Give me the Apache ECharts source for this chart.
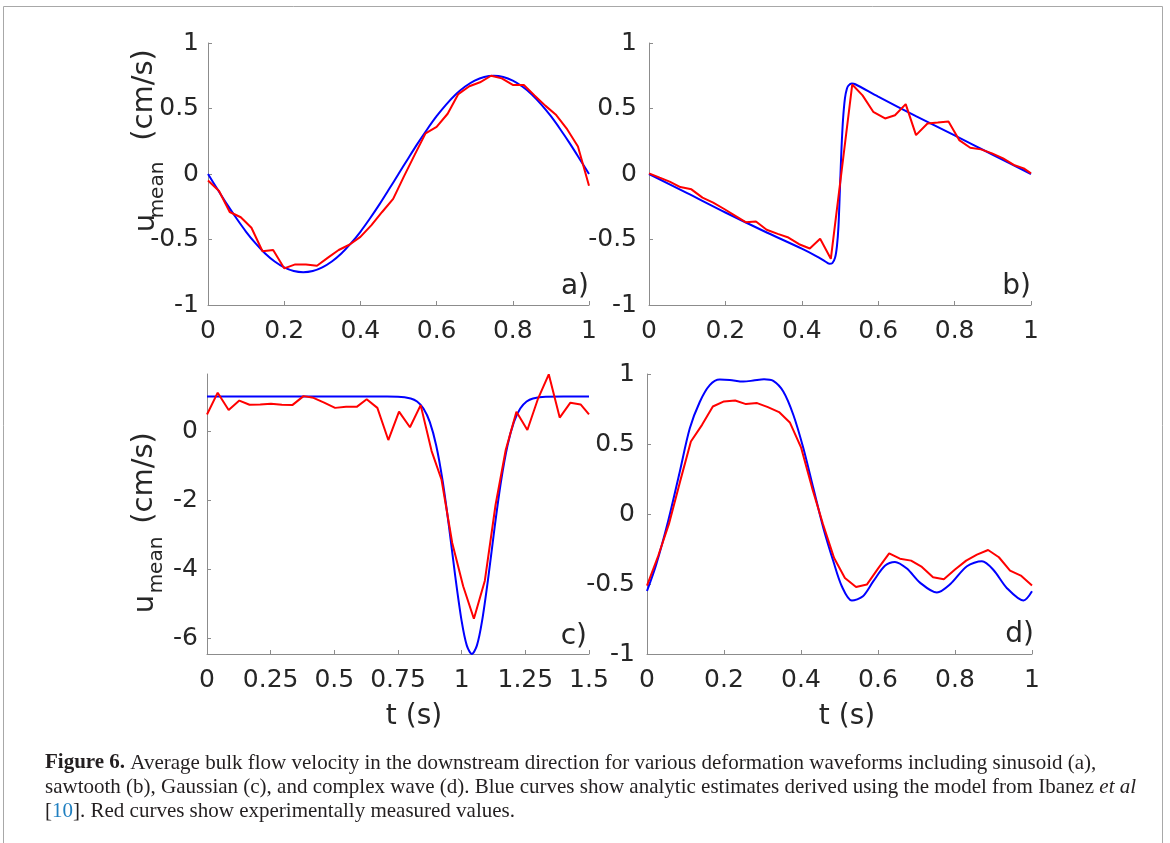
<!DOCTYPE html>
<html>
<head>
<meta charset="utf-8">
<script src="https://cdn.jsdelivr.net/npm/echarts@6/dist/echarts.min.js"></script>
<style>
html,body{margin:0;padding:0;background:#fff;}
#chart{width:1170px;height:843px;}
</style>
</head>
<body>
<div id="chart"></div>
<script>
// ---------- Data ----------
// Panel a: sinusoid
const blueA_t = [0,0.025,0.05,0.075,0.1,0.125,0.15,0.175,0.2,0.225,0.25,0.275,0.3,0.325,0.35,0.375,0.4,0.425,0.45,0.475,0.5,0.525,0.55,0.575,0.6,0.625,0.65,0.675,0.7,0.725,0.75,0.775,0.8,0.825,0.85,0.875,0.9,0.925,0.95,0.975,1];
const blueA_u = [0,-0.117,-0.232,-0.340,-0.441,-0.530,-0.607,-0.668,-0.713,-0.741,-0.75,-0.741,-0.713,-0.668,-0.607,-0.530,-0.441,-0.340,-0.232,-0.117,0,0.117,0.232,0.340,0.441,0.530,0.607,0.668,0.713,0.741,0.75,0.741,0.713,0.668,0.607,0.530,0.441,0.340,0.232,0.117,0];
const redA_t = [0,0.029,0.057,0.086,0.114,0.143,0.171,0.2,0.229,0.257,0.286,0.314,0.343,0.371,0.4,0.429,0.457,0.486,0.514,0.543,0.571,0.6,0.629,0.657,0.686,0.714,0.743,0.771,0.8,0.829,0.857,0.886,0.914,0.943,0.971,1];
const redA_u = [-0.05,-0.13,-0.29,-0.33,-0.41,-0.59,-0.58,-0.72,-0.69,-0.69,-0.70,-0.64,-0.58,-0.54,-0.48,-0.39,-0.29,-0.19,-0.02,0.15,0.31,0.36,0.46,0.61,0.67,0.70,0.75,0.73,0.68,0.68,0.60,0.52,0.45,0.34,0.21,-0.09];

// Panel b: sawtooth
const blueB_t = [0,0.1,0.2,0.3,0.4,0.44,0.46,0.472,0.48,0.487,0.492,0.496,0.5,0.504,0.508,0.513,0.518,0.522,0.531,0.54,0.6,0.7,0.8,0.9,1];
const blueB_u = [0,-0.146,-0.294,-0.435,-0.57,-0.63,-0.665,-0.685,-0.68,-0.64,-0.55,-0.40,-0.10,0.20,0.42,0.58,0.65,0.675,0.69,0.685,0.59,0.44,0.295,0.147,0];
const redB_t = [0,0.028,0.054,0.082,0.111,0.140,0.168,0.198,0.225,0.253,0.280,0.308,0.337,0.365,0.393,0.421,0.448,0.476,0.532,0.559,0.587,0.618,0.644,0.672,0.699,0.729,0.756,0.784,0.812,0.841,0.869,0.898,0.927,0.955,0.981,1];
const redB_u = [0.005,-0.028,-0.058,-0.10,-0.117,-0.18,-0.218,-0.269,-0.317,-0.368,-0.363,-0.426,-0.457,-0.485,-0.536,-0.569,-0.495,-0.647,0.683,0.60,0.475,0.424,0.449,0.533,0.297,0.386,0.393,0.401,0.259,0.20,0.188,0.157,0.119,0.069,0.043,0.005];

// Panel c: Gaussian
const blueC_t = [0,0.25,0.5,0.7,0.75,0.8,0.825,0.85,0.875,0.9,0.925,0.95,0.975,1,1.02,1.04,1.06,1.08,1.105,1.13,1.155,1.18,1.205,1.23,1.255,1.28,1.33,1.4,1.5];
const blueC_u = [1,1,1,0.998,0.994,0.943,0.852,0.651,0.259,-0.416,-1.43,-2.75,-4.21,-5.50,-6.20,-6.45,-6.20,-5.50,-4.21,-2.75,-1.43,-0.416,0.259,0.651,0.852,0.943,0.994,1,1];
const redC_t = [0,0.042,0.085,0.127,0.167,0.209,0.251,0.294,0.335,0.379,0.418,0.46,0.503,0.546,0.588,0.627,0.669,0.712,0.754,0.797,0.839,0.882,0.921,0.963,1.006,1.048,1.091,1.133,1.173,1.215,1.258,1.300,1.342,1.385,1.427,1.467,1.5];
const redC_u = [0.48,1.11,0.61,0.88,0.76,0.77,0.79,0.76,0.75,1.01,0.96,0.82,0.67,0.70,0.70,0.92,0.67,-0.26,0.56,0.11,0.75,-0.58,-1.41,-3.24,-4.49,-5.43,-4.33,-2.14,-0.55,0.56,0.03,0.94,1.64,0.39,0.82,0.77,0.48];

// Panel d: complex wave
const blueD_t = [0,0.024,0.055,0.085,0.111,0.137,0.163,0.189,0.215,0.25,0.276,0.304,0.328,0.354,0.38,0.406,0.432,0.458,0.484,0.506,0.532,0.56,0.588,0.618,0.644,0.675,0.709,0.753,0.788,0.831,0.870,0.9,0.935,0.978,1];
const blueD_u = [-0.55,-0.36,-0.05,0.30,0.61,0.80,0.92,0.96,0.958,0.946,0.953,0.963,0.951,0.875,0.709,0.471,0.185,-0.10,-0.338,-0.516,-0.618,-0.59,-0.48,-0.37,-0.342,-0.39,-0.49,-0.561,-0.50,-0.373,-0.338,-0.40,-0.53,-0.618,-0.552];
const redD_t = [0,0.029,0.057,0.086,0.114,0.143,0.171,0.2,0.229,0.257,0.286,0.314,0.343,0.371,0.4,0.429,0.457,0.486,0.514,0.543,0.571,0.6,0.629,0.657,0.686,0.714,0.743,0.771,0.8,0.829,0.857,0.886,0.914,0.943,0.971,1];
const redD_u = [-0.511,-0.30,-0.071,0.233,0.518,0.637,0.768,0.804,0.811,0.785,0.792,0.763,0.728,0.654,0.476,0.185,-0.071,-0.314,-0.457,-0.521,-0.504,-0.39,-0.281,-0.319,-0.333,-0.378,-0.452,-0.466,-0.397,-0.333,-0.29,-0.257,-0.309,-0.404,-0.44,-0.511];

// Tick labels / text
const panelLetters = ['a)', 'b)', 'c)', 'd)'];
const yLabelMain = 'u';
const yLabelSub = 'mean';
const yLabelUnit = '(cm/s)';
const xLabel = 't (s)';
const ticksYC = [-6, -4, -2, 0];
const captionLine1 = 'Average bulk flow velocity in the downstream direction for various deformation waveforms including sinusoid (a),';
const captionLine2 = 'sawtooth (b), Gaussian (c), and complex wave (d). Blue curves show analytic estimates derived using the model from Ibanez ';
const captionLine3 = '. Red curves show experimentally measured values.';

// ---------- Chart ----------
const pairs = (t, u) => t.map((x, i) => [x, u[i]]);
const AX = '#8c8c8c', TXT = '#262626', FONT = 'DejaVu Sans';

function xAxis(gi, max, interval) {
  return {
    type: 'value', gridIndex: gi, min: 0, max: max, interval: interval,
    axisLine: { onZero: false, lineStyle: { color: AX, width: 1 } },
    axisTick: { inside: true, length: 4, lineStyle: { color: AX } },
    axisLabel: { color: TXT, fontSize: 25, fontFamily: FONT, margin: 14 },
    splitLine: { show: false }
  };
}
function yAxis(gi, extra) {
  return Object.assign({
    type: 'value', gridIndex: gi, min: -1, max: 1, interval: 0.5,
    axisLine: { show: true, onZero: false, lineStyle: { color: AX, width: 1 } },
    axisTick: { show: true, inside: true, length: 4, lineStyle: { color: AX } },
    axisLabel: { color: TXT, fontSize: 25, fontFamily: FONT, margin: 9 },
    splitLine: { show: false }
  }, extra || {});
}
function line(gi, data, color) {
  return {
    type: 'line', xAxisIndex: gi, yAxisIndex: gi, data: data,
    showSymbol: false, symbol: 'none', smooth: false,
    lineStyle: { color: color, width: 2 }, itemStyle: { color: color },
    silent: true, animation: false
  };
}
function smoothLine(gi, data, color) {
  const s = line(gi, data, color);
  s.smooth = 0.3;
  return s;
}
function txt(x, y, text, size, opts) {
  return Object.assign({
    type: 'text', x: x, y: y, silent: true,
    style: Object.assign({
      text: text, fontSize: size, fontFamily: FONT, fill: TXT,
      textAlign: 'center', align: 'center',
      textVerticalAlign: 'middle', verticalAlign: 'middle'
    }, (opts && opts.style) || {})
  }, (opts && opts.el) || {});
}
function yLabel(xu, yu, xs, ys, xn, yn) {
  const rot = { el: { rotation: Math.PI / 2 } };
  return [
    txt(xu, yu, yLabelMain, 29, rot),
    txt(xs, ys, yLabelSub, 20, rot),
    txt(xn, yn, yLabelUnit, 29, rot)
  ];
}
const right = { style: { textAlign: 'right', align: 'right' } };
const CAP = 21;
const capFont = '"Liberation Serif", "Times New Roman", serif';
const capStyle = (text, rich) => ({ style: { text: text, rich: rich, fontSize: CAP, fontFamily: capFont, fill: '#231f20', textAlign: 'left', align: 'left' } });
const richBase = { fontSize: CAP, fontFamily: capFont, fill: '#231f20', color: '#231f20' };
const capRich = {
  b: Object.assign({}, richBase, { fontWeight: 'bold' }),
  n: Object.assign({}, richBase),
  i: Object.assign({}, richBase, { fontStyle: 'italic' }),
  l: Object.assign({}, richBase, { fill: '#1f7fc0', color: '#1f7fc0' })
};

const option = {
  backgroundColor: '#ffffff',
  animation: false,
  grid: [
    { left: 208, top: 43, width: 381, height: 262, outerBoundsMode: 'none', containLabel: false },
    { left: 649, top: 43, width: 382, height: 262, outerBoundsMode: 'none', containLabel: false },
    { left: 207, top: 374, width: 382, height: 280, outerBoundsMode: 'none', containLabel: false },
    { left: 647, top: 374, width: 385, height: 280, outerBoundsMode: 'none', containLabel: false }
  ],
  xAxis: [ xAxis(0, 1, 0.2), xAxis(1, 1, 0.2), xAxis(2, 1.5, 0.25), xAxis(3, 1, 0.2) ],
  yAxis: [
    yAxis(0), yAxis(1, { axisLabel: { color: TXT, fontSize: 25, fontFamily: FONT, margin: 12 } }),
    yAxis(2, {
      min: -6.45, max: 1.65, interval: null,
      axisTick: { show: true, inside: true, length: 4, lineStyle: { color: AX }, customValues: ticksYC },
      axisLabel: { color: TXT, fontSize: 25, fontFamily: FONT, margin: 9, customValues: ticksYC }
    }),
    yAxis(3, { axisLabel: { color: TXT, fontSize: 25, fontFamily: FONT, margin: 12 } })
  ],
  series: [
    smoothLine(0, pairs(blueA_t, blueA_u), '#0000ff'),
    line(0, pairs(redA_t, redA_u), '#ff0000'),
    smoothLine(1, pairs(blueB_t, blueB_u), '#0000ff'),
    line(1, pairs(redB_t, redB_u), '#ff0000'),
    smoothLine(2, pairs(blueC_t, blueC_u), '#0000ff'),
    line(2, pairs(redC_t, redC_u), '#ff0000'),
    smoothLine(3, pairs(blueD_t, blueD_u), '#0000ff'),
    line(3, pairs(redD_t, redD_u), '#ff0000')
  ],
  graphic: [].concat(
    [{ type: 'rect', silent: true, z: -10, shape: { x: 3.5, y: 6.5, width: 1159, height: 900 },
       style: { fill: 'none', stroke: '#a8a8a8', lineWidth: 1 } }],
    [
      txt(589, 287, panelLetters[0], 28, right),
      txt(1031, 287, panelLetters[1], 28, right),
      txt(587, 637, panelLetters[2], 28, right),
      txt(1034, 635, panelLetters[3], 28, right)
    ],
    yLabel(146, 223, 158, 190, 144, 95),
    yLabel(145, 604, 157, 565, 144, 478),
    [ txt(414, 717, xLabel, 28), txt(847, 717, xLabel, 28) ],
    [
      Object.assign({ type: 'text', x: 45, y: 763, silent: true }, capStyle('{b|Figure 6.} {n|' + captionLine1 + '}', capRich)),
      Object.assign({ type: 'text', x: 45, y: 787, silent: true }, capStyle('{n|' + captionLine2 + '}{i|et al}', capRich)),
      Object.assign({ type: 'text', x: 45, y: 811, silent: true }, capStyle('{n|[}{l|10}{n|]' + captionLine3 + '}', capRich))
    ].map(e => { e.style.textVerticalAlign = 'middle'; e.style.verticalAlign = 'middle'; return e; })
  )
};

const chart = echarts.init(document.getElementById('chart'), null, { renderer: 'canvas', width: 1170, height: 843 });
chart.setOption(option);
</script>
</body>
</html>
